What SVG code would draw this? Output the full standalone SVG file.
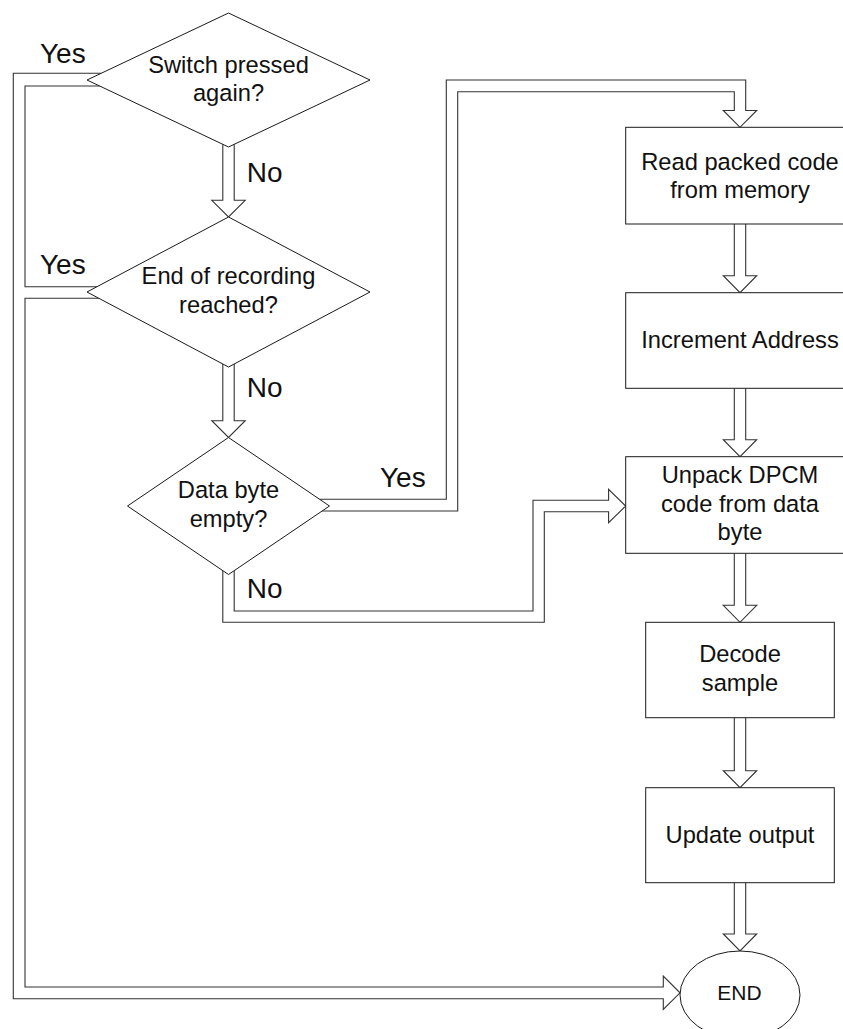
<svg xmlns="http://www.w3.org/2000/svg" width="843" height="1029" viewBox="0 0 843 1029">
<style>
.n{fill:#fff;stroke:#1a1a1a;stroke-width:1}
.c{fill:none;stroke:#333;stroke-width:1.1}
.t{font-family:"Liberation Sans",Arial,sans-serif;font-size:23.7px;fill:#111;text-anchor:middle}
.l{font-family:"Liberation Sans",Arial,sans-serif;font-size:28px;fill:#111}
.e{font-family:"Liberation Sans",Arial,sans-serif;font-size:21px;fill:#111;text-anchor:middle}
</style>
<rect width="843" height="1029" fill="#fff"/>
<g id="connectors">
<path class="c" d="M222.8,144.3 V200.3 H211.8 L228.5,217 L245.2,200.3 H234.2 V144.3"/>
<path class="c" d="M222.8,364 V420.7 H211.8 L228.5,437.5 L245.2,420.7 H234.2 V364"/>
<path class="c" d="M319.6,499.3 H446.3 V80 H745.7 V110.5 H756.7 L740,127.3 L723.3,110.5 H734.3 V91.7 H457.7 V511 H322.1"/>
<path class="c" d="M222.8,570.6 V622.3 H544.3 V511.7 H608.6 V522.7 L625.7,506 L608.6,489.3 V500.3 H533 V611 H234.2 V570.6"/>
<path class="c" d="M101.2,73.3 H13.3 V998.7 H663.3 V1009.5 L680,992.8 L663.3,976.1 V987 H25 V298.3 H98.9"/>
<path class="c" d="M99.7,86 H25 V286.7 H97"/>
<path class="c" d="M734.3,224 V275.7 H723.3 L740,292.7 L756.7,275.7 H745.7 V224"/>
<path class="c" d="M734.3,388.3 V439.7 H723.3 L740,456.7 L756.7,439.7 H745.7 V388.3"/>
<path class="c" d="M734.3,553.3 V605.3 H723.3 L740,622.3 L756.7,605.3 H745.7 V553.3"/>
<path class="c" d="M734.3,717.7 V770.7 H723.3 L740,787.7 L756.7,770.7 H745.7 V717.7"/>
<path class="c" d="M734.3,882.7 V934 H723.3 L740,951 L756.7,934 H745.7 V882.7"/>
<text class="l" x="40" y="63.3">Yes</text>
<text class="l" x="246.7" y="181.7">No</text>
<text class="l" x="40" y="274.3">Yes</text>
<text class="l" x="246.7" y="397.3">No</text>
<text class="l" x="380" y="486.7">Yes</text>
<text class="l" x="246.7" y="598.3">No</text>
</g>
<g id="switch">
<polygon class="n" points="228.5,13 370,80 228.5,147 87,80"/>
<text class="t" x="228.5" y="73.3">Switch pressed</text>
<text class="t" x="228.5" y="101">again?</text>
</g>
<g id="endrec">
<polygon class="n" points="228.5,217 370,292 228.5,367 87,292"/>
<text class="t" x="228.5" y="284">End of recording</text>
<text class="t" x="228.5" y="312.7">reached?</text>
</g>
<g id="databyte">
<polygon class="n" points="228.5,437.5 329.5,506 228.5,574.5 127.5,506"/>
<text class="t" x="228.5" y="498.3">Data byte</text>
<text class="t" x="228.5" y="526.7">empty?</text>
</g>
<g id="read">
<rect class="n" x="625.7" y="127.3" width="229" height="96.7"/>
<text class="t" x="740" y="170">Read packed code</text>
<text class="t" x="740" y="198.3">from memory</text>
</g>
<g id="incr">
<rect class="n" x="625.7" y="292.7" width="229" height="95.6"/>
<text class="t" x="740" y="348.3">Increment Address</text>
</g>
<g id="unpack">
<rect class="n" x="625.7" y="456.7" width="229" height="96.6"/>
<text class="t" x="740" y="483.3">Unpack DPCM</text>
<text class="t" x="740" y="511.7">code from data</text>
<text class="t" x="740" y="540">byte</text>
</g>
<g id="decode">
<rect class="n" x="645.7" y="622.3" width="188.6" height="95.4"/>
<text class="t" x="740" y="662.3">Decode</text>
<text class="t" x="740" y="691">sample</text>
</g>
<g id="update">
<rect class="n" x="645.7" y="787.7" width="188.6" height="95"/>
<text class="t" x="740" y="842.7">Update output</text>
</g>
<g id="end">
<ellipse class="n" cx="740" cy="995" rx="60" ry="44"/>
<text class="e" x="739.5" y="1000">END</text>
</g>
</svg>
